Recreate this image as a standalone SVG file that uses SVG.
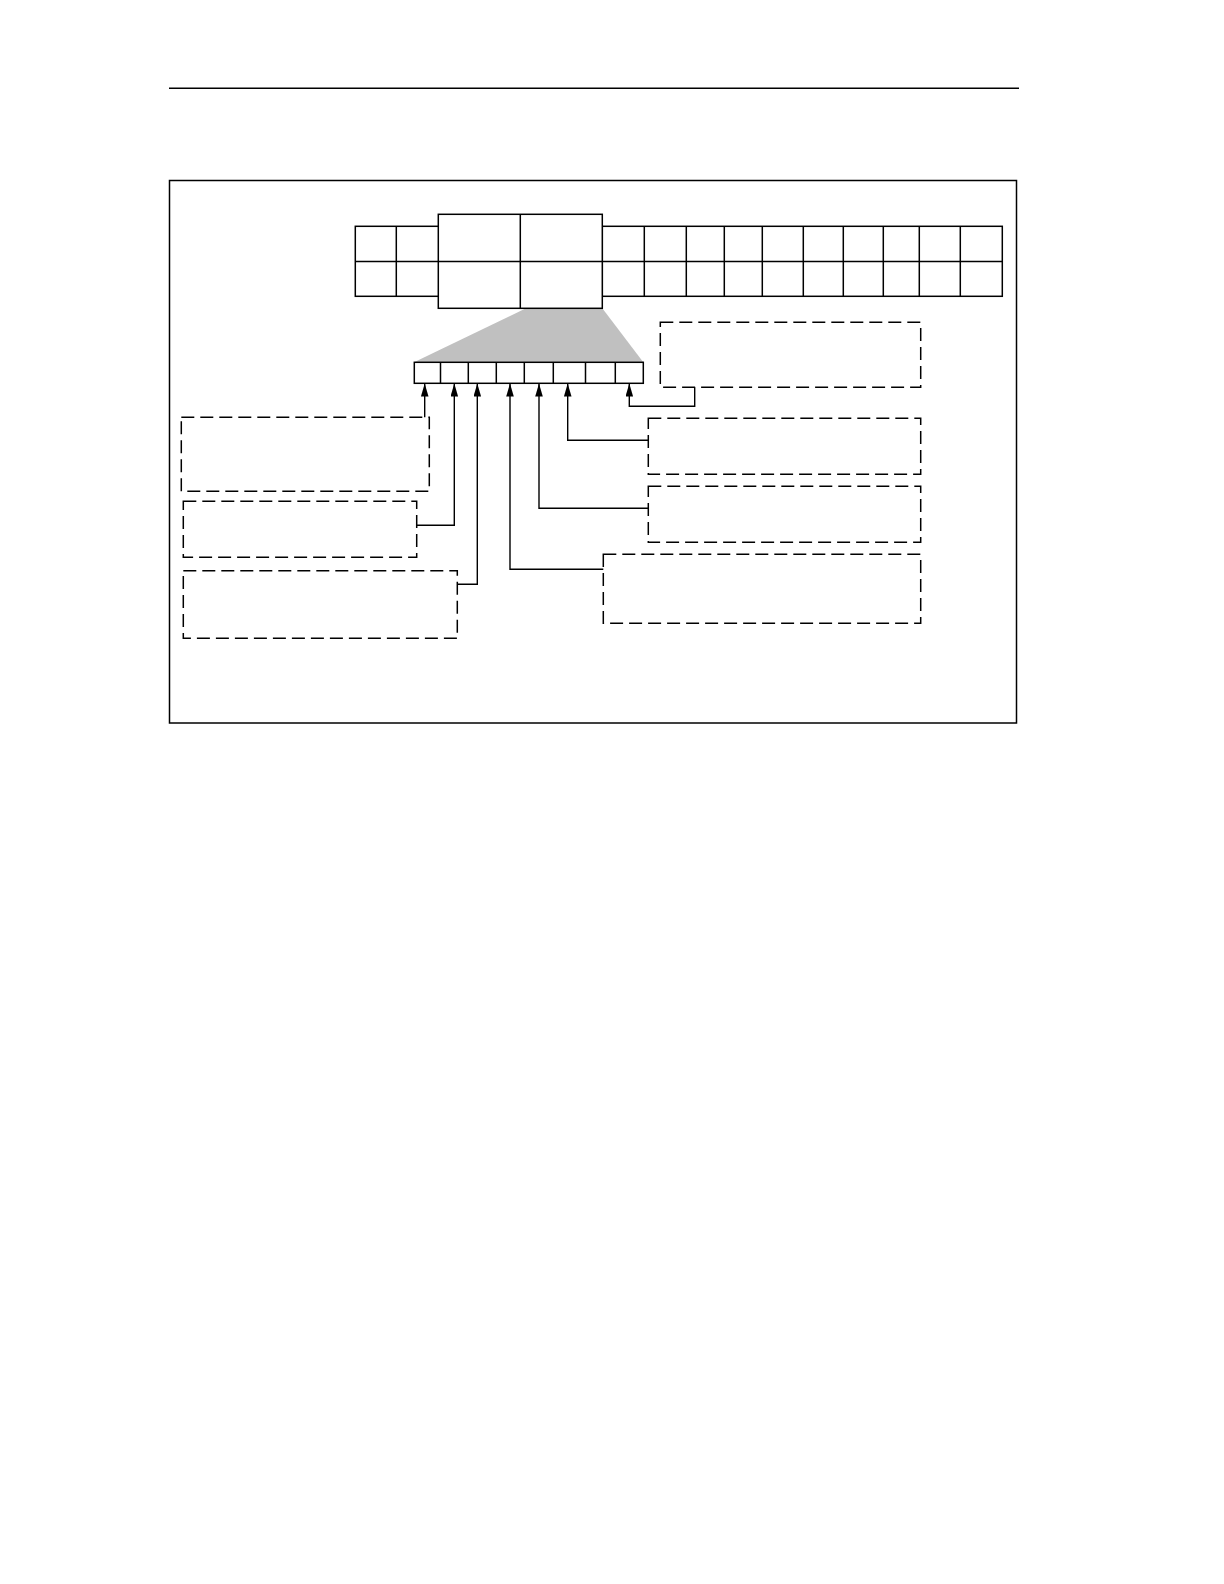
<svg xmlns="http://www.w3.org/2000/svg" width="1224" height="1584" viewBox="0 0 1224 1584">
<style>
.s{fill:#fff;stroke:#000;stroke-width:1.5}
.d{fill:none;stroke:#000;stroke-width:1.5;stroke-dasharray:13 6}
.c{fill:none;stroke:#000;stroke-width:1.4}
.l{stroke:#000;stroke-width:1.5;fill:none}
</style>
<defs>
<marker id="ah" markerUnits="userSpaceOnUse" markerWidth="13" markerHeight="8" refX="12.5" refY="3.8" orient="auto">
<path d="M0,0 L13,3.8 L0,7.6 z" fill="#000"/>
</marker>
</defs>
<rect width="1224" height="1584" fill="#fff"/>
<line id="header-rule" x1="169" y1="88.3" x2="1019" y2="88.3" stroke="#000" stroke-width="1.5"/>
<rect id="frame" x="169.5" y="180.5" width="847" height="542.5" class="s"/>
<polygon id="zoom-wedge" points="414,362.3 526,308.3 602.3,308.3 643.3,362.3" fill="#c0c0c0"/>
<g id="word-row">
<rect x="355.3" y="226.3" width="247" height="70" class="s"/>
<rect x="602.3" y="226.3" width="400" height="70" class="s"/>
<path class="l" d="M355.3,261.5 H1002.3 M396.3,226.3 V296.3 M644.3,226.3 V296.3 M686.3,226.3 V296.3 M724.3,226.3 V296.3 M762.3,226.3 V296.3 M803.3,226.3 V296.3 M843.3,226.3 V296.3 M883.3,226.3 V296.3 M919.3,226.3 V296.3 M960.3,226.3 V296.3"/>
</g>
<g id="big-cell">
<rect x="438.3" y="214.3" width="164" height="94" class="s"/>
<path class="l" d="M520.3,214.3 V308.3 M438.3,261.5 H602.3"/>
</g>
<g id="bit-row">
<rect x="414.3" y="362.3" width="229" height="21" class="s"/>
<path class="l" d="M440.5,362.3 V383.3 M468.3,362.3 V383.3 M496.3,362.3 V383.3 M524.3,362.3 V383.3 M553.3,362.3 V383.3 M585.5,362.3 V383.3 M615.3,362.3 V383.3"/>
</g>
<g id="box-l1"><rect x="181.3" y="417.3" width="248" height="74" class="d"/></g>
<g id="box-l2"><rect x="183.3" y="501.3" width="233.4" height="56" class="d"/></g>
<g id="box-l3"><rect x="183.3" y="570.7" width="274" height="67.6" class="d"/></g>
<g id="box-r1"><rect x="660.3" y="322.3" width="260.4" height="65" class="d"/></g>
<g id="box-r2"><rect x="648.3" y="418.3" width="272.4" height="56" class="d"/></g>
<g id="box-r3"><rect x="648.3" y="486.3" width="272.4" height="56" class="d"/></g>
<g id="box-r4"><rect x="603.3" y="554.3" width="317.4" height="69" class="d"/></g>
<g id="connectors">
<path class="c" marker-end="url(#ah)" d="M424.7,417.3 V384"/>
<path class="c" marker-end="url(#ah)" d="M416.7,525.3 H454.3 V384"/>
<path class="c" marker-end="url(#ah)" d="M457.3,584.3 H477.3 V384"/>
<path class="c" marker-end="url(#ah)" d="M603.3,569.3 H510 V384"/>
<path class="c" marker-end="url(#ah)" d="M648.3,508.3 H539 V384"/>
<path class="c" marker-end="url(#ah)" d="M648.3,440.3 H567.7 V384"/>
<path class="c" marker-end="url(#ah)" d="M694.7,387.3 V406.3 H629.3 V384"/>
</g>
</svg>
